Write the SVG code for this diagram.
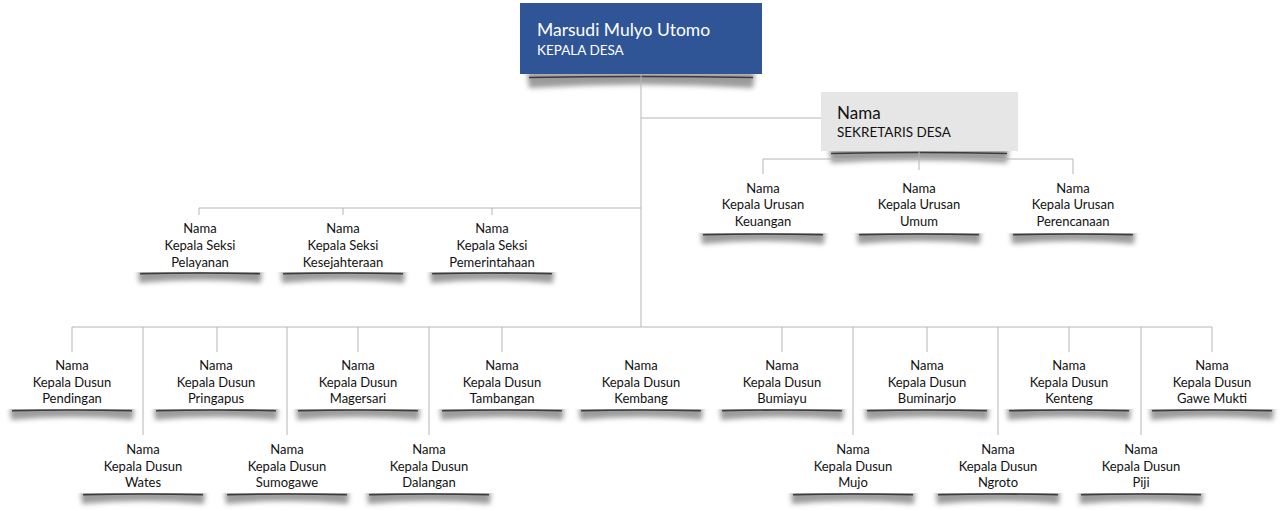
<svg xmlns="http://www.w3.org/2000/svg" xmlns:xlink="http://www.w3.org/1999/xlink" width="1280" height="511" viewBox="0 0 1280 511">
<style>
.ln{stroke:#b5b5b5;stroke-width:1;fill:none}
.t{font-family:Lato,"Open Sans","Liberation Sans",sans-serif;font-size:13px;fill:#111;text-anchor:middle}
.big{font-family:Lato,"Open Sans","Liberation Sans",sans-serif}
.sf{fill:#5a5a5a;opacity:0.6;filter:url(#blur)}
.sl{stroke:#2a2a2a;stroke-width:1.6;fill:none;filter:url(#blur1);opacity:0.85}
</style>
<defs>
<filter id="blur" x="-20%" y="-100%" width="140%" height="300%"><feGaussianBlur stdDeviation="2.8"/></filter>
<filter id="blur1" x="-20%" y="-200%" width="140%" height="500%"><feGaussianBlur stdDeviation="0.6"/></filter>
<clipPath id="below"><rect x="-200" y="0" width="400" height="40"/></clipPath>
<g id="sh"><g clip-path="url(#below)"><path class="sf" d="M-62,-2 L62,-2 L61,11 Q0,5 -61,11 Z"/><path class="sl" d="M-60,1.8 Q0,0.2 60,1.8"/></g></g>
<g id="shw"><g clip-path="url(#below)"><path class="sf" d="M-114,-2 L114,-2 L112,14 Q0,7 -112,14 Z"/><path class="sl" d="M-112,3.5 Q0,1.5 112,3.5"/></g></g>
<g id="shs"><g clip-path="url(#below)"><path class="sf" d="M-90,-2 L90,-2 L88,12 Q0,6 -88,12 Z"/><path class="sl" d="M-88,2.5 Q0,0.5 88,2.5"/></g></g>
</defs>
<rect width="1280" height="511" fill="#ffffff"/>
<g id="kepala-desa">
<use xlink:href="#shw" x="641" y="74"/>
<rect x="520" y="3" width="242" height="71" fill="#2f5597"/>
<text class="big" x="537" y="36" font-size="17.5" fill="#ffffff">Marsudi Mulyo Utomo</text>
<text class="big" x="537" y="55" font-size="13.5" fill="#ffffff">KEPALA DESA</text>
</g>
<g id="sekretaris">
<use xlink:href="#shs" x="919" y="151"/>
<rect x="821" y="92" width="197" height="59" fill="#e6e6e6"/>
<text class="big" x="837" y="119" font-size="17" fill="#111">Nama</text>
<text class="big" x="837" y="137" font-size="13.5" fill="#111">SEKRETARIS DESA</text>
</g>
<g id="urusan-keuangan"><use xlink:href="#sh" x="763" y="233"/><text class="t" x="763" y="193">Nama</text><text class="t" x="763" y="209">Kepala Urusan</text><text class="t" x="763" y="226">Keuangan</text></g>
<g id="urusan-umum"><use xlink:href="#sh" x="919" y="233"/><text class="t" x="919" y="193">Nama</text><text class="t" x="919" y="209">Kepala Urusan</text><text class="t" x="919" y="226">Umum</text></g>
<g id="urusan-perencanaan"><use xlink:href="#sh" x="1073" y="233"/><text class="t" x="1073" y="193">Nama</text><text class="t" x="1073" y="209">Kepala Urusan</text><text class="t" x="1073" y="226">Perencanaan</text></g>
<g id="seksi-pelayanan"><use xlink:href="#sh" x="200" y="272"/><text class="t" x="200" y="233">Nama</text><text class="t" x="200" y="250">Kepala Seksi</text><text class="t" x="200" y="267">Pelayanan</text></g>
<g id="seksi-kesejahteraan"><use xlink:href="#sh" x="343" y="272"/><text class="t" x="343" y="233">Nama</text><text class="t" x="343" y="250">Kepala Seksi</text><text class="t" x="343" y="267">Kesejahteraan</text></g>
<g id="seksi-pemerintahaan"><use xlink:href="#sh" x="492" y="272"/><text class="t" x="492" y="233">Nama</text><text class="t" x="492" y="250">Kepala Seksi</text><text class="t" x="492" y="267">Pemerintahaan</text></g>
<g id="dusun-pendingan"><use xlink:href="#sh" x="72" y="409"/><text class="t" x="72" y="370">Nama</text><text class="t" x="72" y="387">Kepala Dusun</text><text class="t" x="72" y="403">Pendingan</text></g>
<g id="dusun-pringapus"><use xlink:href="#sh" x="216" y="409"/><text class="t" x="216" y="370">Nama</text><text class="t" x="216" y="387">Kepala Dusun</text><text class="t" x="216" y="403">Pringapus</text></g>
<g id="dusun-magersari"><use xlink:href="#sh" x="358" y="409"/><text class="t" x="358" y="370">Nama</text><text class="t" x="358" y="387">Kepala Dusun</text><text class="t" x="358" y="403">Magersari</text></g>
<g id="dusun-tambangan"><use xlink:href="#sh" x="502" y="409"/><text class="t" x="502" y="370">Nama</text><text class="t" x="502" y="387">Kepala Dusun</text><text class="t" x="502" y="403">Tambangan</text></g>
<g id="dusun-kembang"><use xlink:href="#sh" x="641" y="409"/><text class="t" x="641" y="370">Nama</text><text class="t" x="641" y="387">Kepala Dusun</text><text class="t" x="641" y="403">Kembang</text></g>
<g id="dusun-bumiayu"><use xlink:href="#sh" x="782" y="409"/><text class="t" x="782" y="370">Nama</text><text class="t" x="782" y="387">Kepala Dusun</text><text class="t" x="782" y="403">Bumiayu</text></g>
<g id="dusun-buminarjo"><use xlink:href="#sh" x="927" y="409"/><text class="t" x="927" y="370">Nama</text><text class="t" x="927" y="387">Kepala Dusun</text><text class="t" x="927" y="403">Buminarjo</text></g>
<g id="dusun-kenteng"><use xlink:href="#sh" x="1069" y="409"/><text class="t" x="1069" y="370">Nama</text><text class="t" x="1069" y="387">Kepala Dusun</text><text class="t" x="1069" y="403">Kenteng</text></g>
<g id="dusun-gawe-mukti"><use xlink:href="#sh" x="1212" y="409"/><text class="t" x="1212" y="370">Nama</text><text class="t" x="1212" y="387">Kepala Dusun</text><text class="t" x="1212" y="403">Gawe Mukti</text></g>
<g id="dusun-wates"><use xlink:href="#sh" x="143" y="493"/><text class="t" x="143" y="454">Nama</text><text class="t" x="143" y="471">Kepala Dusun</text><text class="t" x="143" y="487">Wates</text></g>
<g id="dusun-sumogawe"><use xlink:href="#sh" x="287" y="493"/><text class="t" x="287" y="454">Nama</text><text class="t" x="287" y="471">Kepala Dusun</text><text class="t" x="287" y="487">Sumogawe</text></g>
<g id="dusun-dalangan"><use xlink:href="#sh" x="429" y="493"/><text class="t" x="429" y="454">Nama</text><text class="t" x="429" y="471">Kepala Dusun</text><text class="t" x="429" y="487">Dalangan</text></g>
<g id="dusun-mujo"><use xlink:href="#sh" x="853" y="493"/><text class="t" x="853" y="454">Nama</text><text class="t" x="853" y="471">Kepala Dusun</text><text class="t" x="853" y="487">Mujo</text></g>
<g id="dusun-ngroto"><use xlink:href="#sh" x="998" y="493"/><text class="t" x="998" y="454">Nama</text><text class="t" x="998" y="471">Kepala Dusun</text><text class="t" x="998" y="487">Ngroto</text></g>
<g id="dusun-piji"><use xlink:href="#sh" x="1141" y="493"/><text class="t" x="1141" y="454">Nama</text><text class="t" x="1141" y="471">Kepala Dusun</text><text class="t" x="1141" y="487">Piji</text></g>
<g id="connectors">
<path class="ln" d="M641,74 V327 M641,118 H821 M919,151 V159 M763,159 H1073 M763,159 V174 M919,159 V170 M1073,159 V174"/>
<path class="ln" d="M199,208 H641 M199,208 V215 M343,208 V215 M492,208 V215"/>
<path class="ln" d="M72,327 H1212 M72,327 V352 M217,327 V352 M358,327 V352 M502,327 V352 M782,327 V352 M927,327 V352 M1069,327 V352 M1212,327 V352 M143,327 V435 M287,327 V435 M429,327 V435 M853,327 V435 M998,327 V435 M1141,327 V435"/>
</g>
</svg>
